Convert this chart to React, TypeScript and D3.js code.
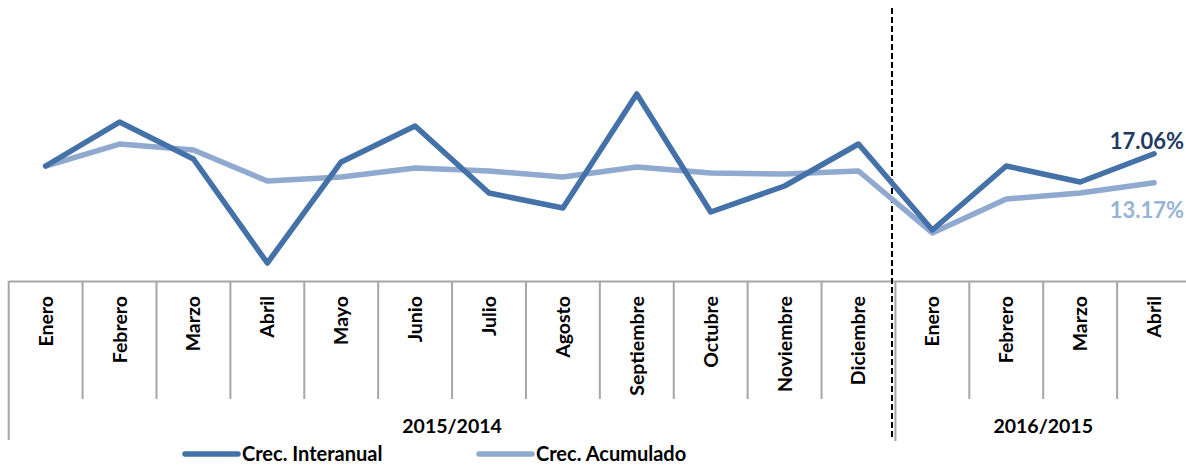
import React from "react";
import * as d3 from "d3";

const months = [
  "Enero", "Febrero", "Marzo", "Abril", "Mayo", "Junio", "Julio", "Agosto",
  "Septiembre", "Octubre", "Noviembre", "Diciembre",
  "Enero", "Febrero", "Marzo", "Abril",
];
const interanual = [15.42, 21.32, 16.36, 2.41, 15.96, 20.79, 11.8, 9.79, 25.08, 9.25, 12.74, 18.37, 6.84, 15.42, 13.28, 17.06];
const acumulado = [15.42, 18.37, 17.57, 13.41, 13.95, 15.15, 14.75, 13.95, 15.29, 14.48, 14.35, 14.75, 6.44, 11.0, 11.8, 13.17];
const groupLabels = ["2015/2014", "2016/2015"];
const groupSizes = [12, 4];
const seriesNames = ["Crec. Interanual", "Crec. Acumulado"];
const endLabels = ["17.06%", "13.17%"];

const W = 1186;
const H = 466;
const FONT = "Lato, 'Open Sans', sans-serif";
const C1 = "#4471A7";
const C2 = "#8FA9CF";

export default function App() {
  const idx = months.map((_, i) => i);
  const x = d3.scaleBand<number>().domain(idx).range([8.7, 1191]).padding(0);
  const y = d3.scaleLinear().domain([0, 35]).range([281, 20]);
  const cx = (i: number) => (x(i) as number) + x.bandwidth() / 2;
  const line = d3
    .line<number>()
    .x((_, i) => cx(i))
    .y((d) => y(d));

  const axisY = y(0);
  const sepIndex = groupSizes[0];
  const sepX = x(sepIndex) as number;

  let start = 0;
  const groups = groupLabels.map((g, gi) => {
    const s = start;
    const e = start + groupSizes[gi];
    start = e;
    const x0 = x(s) as number;
    const x1 = e < months.length ? (x(e) as number) : (x(e - 1) as number) + x.bandwidth();
    return { label: g, x0, x1 };
  });

  const last = months.length - 1;

  return (
    <svg
      width={W}
      height={H}
      style={{ position: "absolute", left: 0, top: 0, background: "#fff" }}
      fontFamily={FONT}
    >
      <rect x={0} y={0} width={W} height={H} fill="#fff" />
      <line x1={8.7} x2={W} y1={axisY + 0.5} y2={axisY + 0.5} stroke="#A6A6A6" strokeWidth={2} />
      {idx.map((i) => {
        if (i === 0 || i === sepIndex) return null;
        const xx = x(i) as number;
        return <line key={"t" + i} x1={xx} x2={xx} y1={axisY} y2={399} stroke="#A6A6A6" strokeWidth={2} />;
      })}
      <line x1={8.7} x2={8.7} y1={axisY} y2={440} stroke="#A6A6A6" strokeWidth={2} />
      <line x1={sepX} x2={sepX} y1={axisY} y2={441} stroke="#A6A6A6" strokeWidth={2} />
      {months.map((m, i) => (
        <text
          key={"m" + i}
          transform={`translate(${cx(i) + 7},296) rotate(-90)`}
          textAnchor="end"
          fontSize={19.5}
          fontWeight={700}
          fill="#000"
        >
          {m}
        </text>
      ))}
      {groups.map((g) => (
        <text
          key={g.label}
          x={(g.x0 + g.x1) / 2}
          y={433}
          textAnchor="middle"
          fontSize={19.5}
          fontWeight={700}
          fill="#000"
        >
          {g.label}
        </text>
      ))}
      <line x1={892} x2={892} y1={8} y2={440} stroke="#000" strokeWidth={2} strokeDasharray="6,3" />
      <path d={line(acumulado) || ""} fill="none" stroke={C2} strokeWidth={5.5} strokeLinejoin="round" strokeLinecap="round" />
      <path d={line(interanual) || ""} fill="none" stroke={C1} strokeWidth={5.5} strokeLinejoin="round" strokeLinecap="round" />
      <text x={1184} y={y(interanual[last]) - 5} textAnchor="end" fontSize={22} fontWeight={700} fill="#1F3864">
        {endLabels[0]}
      </text>
      <text x={1184} y={y(acumulado[last]) + 35} textAnchor="end" fontSize={22} fontWeight={700} fill="#95B3D7">
        {endLabels[1]}
      </text>
      <line x1={185} x2={238} y1={454} y2={454} stroke={C1} strokeWidth={5.5} strokeLinecap="round" />
      <text x={242} y={461} fontSize={20} fontWeight={700} fill="#000">
        {seriesNames[0]}
      </text>
      <line x1={479} x2={532} y1={454} y2={454} stroke={C2} strokeWidth={5.5} strokeLinecap="round" />
      <text x={536} y={461} fontSize={20} fontWeight={700} fill="#000">
        {seriesNames[1]}
      </text>
    </svg>
  );
}
